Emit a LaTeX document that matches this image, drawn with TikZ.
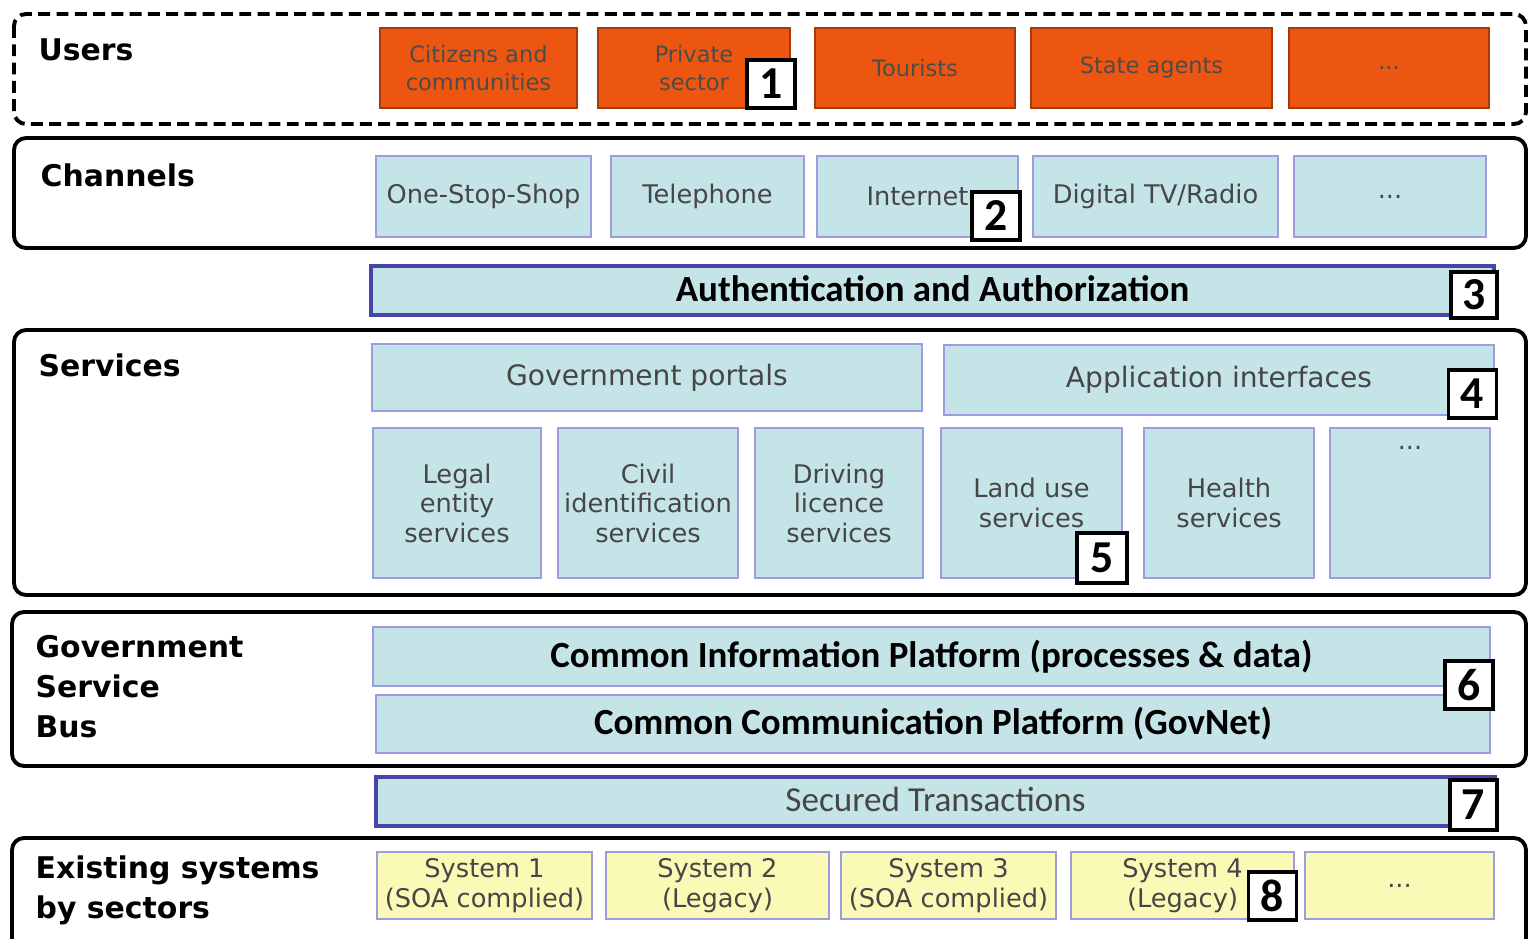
\documentclass[tikz,border=0pt]{standalone}
\usepackage{fontspec}
\usepackage{tikz}
\setmainfont{DejaVu Sans}
\newfontfamily\calfont{Carlito}
\definecolor{orng}{RGB}{236,86,16}
\definecolor{orngdk}{RGB}{168,58,10}
\definecolor{lblue}{RGB}{197,228,232}
\definecolor{lav}{RGB}{156,156,222}
\definecolor{dblue}{RGB}{70,70,170}
\definecolor{lyel}{RGB}{250,250,182}
\definecolor{txtg}{RGB}{70,70,70}
\newcommand{\sm}{\fontsize{7.3}{8.4}\selectfont}
\newcommand{\up}[1]{\raisebox{1.3pt}{#1}}
\tikzstyle{frame}=[draw, line width = 1.1pt, rounded corners = 0.12cm]
\tikzstyle{lay}=[anchor = west, inner sep = 0, align = left, font = \fontsize{8.5}{11.4}\selectfont\bfseries]
\tikzstyle{usr}=[draw = orngdk, fill = orng, line width = .5pt, inner sep = 0, align = center, text = black!70, font = \fontsize{6.4}{8}\selectfont]
\tikzstyle{chn}=[draw = lav, fill = lblue, line width = .6pt, inner sep = 0, align = center, text = txtg, font = \sm]
\tikzstyle{sys}=[draw = lav, fill = lyel, line width = .6pt, inner sep = 0, align = center, text = txtg, font = \sm]
\tikzstyle{bar}=[draw = dblue, fill = lblue, line width = 1.2pt, inner sep = 0]
\tikzstyle{badge}=[draw, fill = white, line width = 1.1pt, inner sep = 0, minimum width = .48cm, minimum height = .48cm, font = \calfont\fontsize{13}{13}\selectfont\bfseries]

\begin{document}
\begin{tikzpicture}
  \useasboundingbox (0,0) rectangle (15.28,-9.39);
  % layers
  \draw[frame, dashed, dash pattern = on 3.4pt off 1.8pt] (0.14,-0.14) rectangle (15.26,-1.24);
  \draw[frame] (0.14,-1.38) rectangle (15.26,-2.48);
  \draw[frame] (0.14,-3.30) rectangle (15.26,-5.95);
  \draw[frame] (0.12,-6.12) rectangle (15.26,-7.66);
  \draw[frame] (0.12,-8.38) rectangle (15.26,-9.55);
  \node[lay] (lusers) at (0.38,-0.50) {Users};
  \node[lay] (lchan) at (0.40,-1.75) {Channels};
  \node[lay] (lserv) at (0.38,-3.65) {Services};
  \node[lay] (lgsb) at (0.35,-6.87) {Government\\Service\\Bus};
  \node[lay] (lexist) at (0.35,-8.90) {Existing systems\\by sectors};
  % users
  \node[usr, minimum width = 1.97cm, minimum height = .80cm] (cit) at (4.785,-0.68) {Citizens and\\communities};
  \node[usr, minimum width = 1.92cm, minimum height = .80cm] (priv) at (6.94,-0.68) {Private\\sector};
  \node[usr, minimum width = 2.00cm, minimum height = .80cm] (tour) at (9.15,-0.68) {Tourists};
  \node[usr, minimum width = 2.41cm, minimum height = .80cm] (state) at (11.515,-0.68) {State agents};
  \node[usr, minimum width = 2.00cm, minimum height = .80cm] (udots) at (13.89,-0.68) {...};
  % channels
  \node[chn, minimum width = 2.15cm, minimum height = .81cm] (oss) at (4.835,-1.965) {One-Stop-Shop};
  \node[chn, minimum width = 1.93cm, minimum height = .81cm] (tel) at (7.075,-1.965) {Telephone};
  \node[chn, minimum width = 2.01cm, minimum height = .81cm] (inet) at (9.175,-1.965) {Internet};
  \node[chn, minimum width = 2.45cm, minimum height = .81cm] (dtv) at (11.555,-1.965) {Digital TV/Radio};
  \node[chn, minimum width = 1.92cm, minimum height = .81cm] (cdots) at (13.90,-1.965) {...};
  % authentication
  \node[bar, minimum width = 11.23cm, minimum height = .49cm, font = \calfont\fontsize{10.5}{12}\selectfont\bfseries] (auth) at (9.325,-2.905) {\up{Authentication and Authorization}};
  % services
  \node[chn, minimum width = 5.50cm, minimum height = .67cm, font = \fontsize{8}{9}\selectfont] (gp) at (6.47,-3.775) {Government portals};
  \node[chn, minimum width = 5.50cm, minimum height = .70cm, font = \fontsize{8}{9}\selectfont] (ai) at (12.19,-3.80) {Application interfaces};
  \node[chn, minimum width = 1.68cm, minimum height = 1.50cm] (legal) at (4.57,-5.03) {Legal\\entity\\services};
  \node[chn, minimum width = 1.80cm, minimum height = 1.50cm] (civil) at (6.48,-5.03) {Civil\\identification\\services};
  \node[chn, minimum width = 1.68cm, minimum height = 1.50cm] (driv) at (8.39,-5.03) {Driving\\licence\\services};
  \node[chn, minimum width = 1.81cm, minimum height = 1.50cm] (land) at (10.315,-5.03) {Land use\\services};
  \node[chn, minimum width = 1.70cm, minimum height = 1.50cm] (health) at (12.29,-5.03) {Health\\services};
  \node[chn, minimum width = 1.60cm, minimum height = 1.50cm, text depth = 1.1cm] (sdots) at (14.10,-5.03) {...};
  % government service bus
  \node[chn, minimum width = 11.17cm, minimum height = .59cm, text = black, font = \calfont\fontsize{10.5}{12}\selectfont\bfseries] (cip) at (9.315,-6.565) {\up{Common Information Platform (processes \& data)}};
  \node[chn, minimum width = 11.14cm, minimum height = .58cm, text = black, font = \calfont\fontsize{10.5}{12}\selectfont\bfseries] (ccp) at (9.33,-7.24) {Common Communication Platform (GovNet)};
  \node[bar, minimum width = 11.19cm, minimum height = .49cm, text = txtg, font = \calfont\fontsize{10}{12}\selectfont] (sec) at (9.355,-8.015) {\up{Secured Transactions}};
  % existing systems
  \node[sys, minimum width = 2.15cm, minimum height = .67cm] (s1) at (4.845,-8.855) {System 1\\(SOA complied)};
  \node[sys, minimum width = 2.23cm, minimum height = .67cm] (s2) at (7.175,-8.855) {System 2\\(Legacy)};
  \node[sys, minimum width = 2.15cm, minimum height = .67cm] (s3) at (9.485,-8.855) {System 3\\(SOA complied)};
  \node[sys, minimum width = 2.23cm, minimum height = .67cm] (s4) at (11.825,-8.855) {System 4\\(Legacy)};
  \node[sys, minimum width = 1.89cm, minimum height = .67cm] (s5) at (13.995,-8.855) {...};
  % numbers
  \node[badge] (b1) at (7.71,-0.84) {1};
  \node[badge] (b2) at (9.96,-2.16) {2};
  \node[badge, minimum width = .46cm, minimum height = .46cm] (b3) at (14.74,-2.95) {3};
  \node[badge] (b4) at (14.725,-3.94) {4};
  \node[badge, minimum width = .50cm, minimum height = .50cm] (b5) at (11.02,-5.58) {5};
  \node[badge] (b6) at (14.69,-6.85) {6};
  \node[badge, minimum width = .47cm, minimum height = .50cm] (b7) at (14.735,-8.05) {7};
  \node[badge] (b8) at (12.725,-8.96) {8};
\end{tikzpicture}
\end{document}
